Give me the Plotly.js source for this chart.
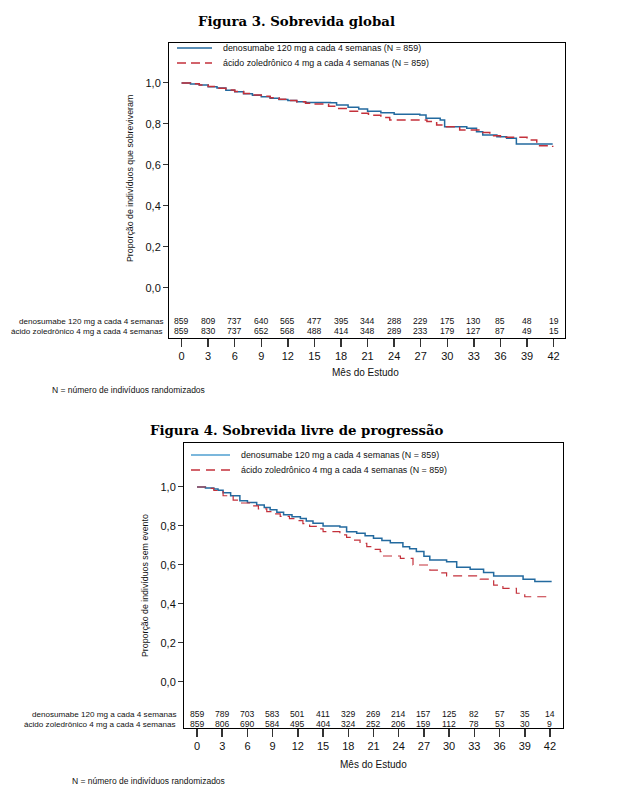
<!DOCTYPE html>
<html>
<head>
<meta charset="utf-8">
<script src="https://cdn.plot.ly/plotly-3.0.1.min.js"></script>
<style>html,body{margin:0;padding:0;background:#fff;}#chart{width:629px;height:802px;}</style>
</head>
<body>
<div id="chart"></div>
<script>
// ---------- DATA ----------
const seriesNames = ["denosumabe 120 mg a cada 4 semanas (N = 859)", "ácido zoledrônico 4 mg a cada 4 semanas (N = 859)"];
const riskLabels = ["denosumabe 120 mg a cada 4 semanas", "ácido zoledrônico 4 mg a cada 4 semanas"];
const monthTicks = [0, 3, 6, 9, 12, 15, 18, 21, 24, 27, 30, 33, 36, 39, 42];
const yTickVals = [0, 0.2, 0.4, 0.6, 0.8, 1.0];
const yTickText = ["0,0", "0,2", "0,4", "0,6", "0,8", "1,0"];

// Figura 3 - Sobrevida global
const osDenT = [0, 1, 2, 3, 4, 5, 6, 7, 8, 9, 10, 11, 12, 13, 14, 16.8, 17.5, 18.8, 20, 21, 22.5, 24, 26.9, 27.6, 29.2, 29.7, 32.2, 33.3, 34, 35.6, 36.7, 37.8, 41.9];
const osDenS = [1, .995, .99, .982, .975, .965, .957, .948, .94, .933, .926, .92, .914, .909, .905, .904, .893, .881, .873, .862, .855, .848, .844, .828, .82, .787, .779, .762, .746, .738, .73, .702, .702];
const osZolT = [0, 1, 2, 3, 4, 5, 6, 7, 8, 9, 10, 11, 12, 13, 14, 15, 16.6, 17.5, 18.8, 20, 21.1, 22.5, 23.5, 27.7, 28.8, 29.9, 31.4, 33.7, 34.8, 36, 39, 40.1, 41.9];
const osZolS = [1, .996, .99, .983, .974, .966, .958, .949, .941, .935, .928, .921, .914, .908, .901, .897, .887, .875, .862, .852, .842, .832, .82, .812, .795, .787, .771, .759, .743, .735, .722, .694, .688];
const osRiskDen = [859, 809, 737, 640, 565, 477, 395, 344, 288, 229, 175, 130, 85, 48, 19];
const osRiskZol = [859, 830, 737, 652, 568, 488, 414, 348, 289, 233, 179, 127, 87, 49, 15];

// Figura 4 - Sobrevida livre de progressão
const pfsDenT = [0, 1, 2, 2.5, 3.1, 4, 5.1, 6, 7.1, 8, 8.7, 9.5, 10.3, 11.3, 12.3, 13, 13.8, 15, 17, 17.8, 19, 20, 21, 22, 23, 24.5, 25.3, 26.1, 27, 27.7, 29.7, 30.9, 32.5, 34.1, 35.3, 38.8, 40.2, 42.2];
const pfsDenS = [1, .995, .99, .983, .97, .955, .93, .92, .908, .895, .883, .87, .858, .848, .839, .826, .814, .8, .795, .771, .763, .75, .737, .725, .714, .694, .683, .669, .645, .626, .617, .588, .578, .561, .544, .527, .515, .515];
const pfsZolT = [0, 1, 2, 3.1, 4.3, 5.3, 6.3, 7.3, 8.3, 9.1, 9.9, 11, 11.9, 12.6, 13.4, 14.2, 15, 17, 17.8, 18.6, 19.4, 20.2, 21, 21.8, 22.2, 24.2, 25.7, 27.7, 28.7, 29.7, 33.7, 35.3, 36.4, 38, 39, 42.2];
const pfsZolS = [1, .993, .982, .955, .933, .918, .903, .888, .874, .862, .849, .838, .828, .812, .798, .785, .771, .754, .742, .728, .711, .694, .68, .669, .646, .634, .6, .574, .56, .544, .527, .497, .48, .455, .437, .437];
const pfsRiskDen = [859, 789, 703, 583, 501, 411, 329, 269, 214, 157, 125, 82, 57, 35, 14];
const pfsRiskZol = [859, 806, 690, 584, 495, 404, 324, 252, 206, 159, 112, 78, 53, 30, 9];

// ---------- STYLE ----------
const W = 629, H = 802;
const SANS = "'Liberation Sans', Arial, sans-serif";
const SERIF = "'DejaVu Serif', 'Liberation Serif', serif";
const BLUE = "#236a9f", BLUE_LIGHT = "#4f9fd0", RED = "#c4313b";
const px = v => v / W;
const py = v => 1 - v / H;

function step(x, y, name, color, dash, xa, ya, width) {
  return {x: x, y: y, name: name, type: "scatter", mode: "lines",
    line: {shape: "hv", color: color, dash: dash, width: width},
    xaxis: xa, yaxis: ya, hoverinfo: "skip", showlegend: false};
}
const traces = [
  step(osDenT, osDenS, seriesNames[0], BLUE, "solid", "x", "y", 1.5),
  step(osZolT, osZolS, seriesNames[1], RED, "9px,5px", "x", "y", 1.5),
  step(pfsDenT, pfsDenS, seriesNames[0], BLUE, "solid", "x2", "y2", 1.5),
  step(pfsZolT, pfsZolS, seriesNames[1], RED, "9px,6px", "x2", "y2", 1.2)
];

function xax(domain, range, anchor) {
  return {domain: domain, range: range, anchor: anchor, tickvals: monthTicks, ticks: "outside", ticklen: 8, tickwidth: 1.5,
    tickcolor: "#333", showline: true, linecolor: "#000", linewidth: 1, mirror: true, showgrid: false,
    zeroline: false, tickfont: {family: SANS, size: 11, color: "#111"}, fixedrange: true};
}
function yax(domain, range, anchor) {
  return {domain: domain, range: range, tickvals: yTickVals, ticktext: yTickText, ticks: "outside", ticklen: 5,
    tickcolor: "#333", showline: true, linecolor: "#000", linewidth: 1, mirror: true, showgrid: false,
    zeroline: false, anchor: anchor, tickfont: {family: SANS, size: 11, color: "#111"}, fixedrange: true};
}

const ann = [];
const shapes = [];
function txt(text, x, y, size, opts) {
  ann.push(Object.assign({text: text, x: x, y: y, xref: "paper", yref: "paper", showarrow: false,
    font: {family: SANS, size: size, color: "#111"}, xanchor: "center", yanchor: "middle"}, opts || {}));
}
// titles
txt("Figura 3. Sobrevida global", px(296), py(22), 13.3, {font: {family: SERIF, size: 13.3, color: "#000", weight: "bold"}});
txt("Figura 4. Sobrevida livre de progressão", px(297), py(430), 13.3, {font: {family: SERIF, size: 13.3, color: "#000", weight: "bold"}});
// y titles
txt("Proporção de indivíduos que sobreviveram", px(130), py(179), 8.8, {textangle: -90});
txt("Proporção de indivíduos sem evento", px(145), py(586), 8.8, {textangle: -90});
// x titles
txt("Mês do Estudo", px(365), py(372), 10);
txt("Mês do Estudo", px(373), py(764), 10);
// footnotes
txt("N = número de indivíduos randomizados", px(50), py(390), 8.5, {xanchor: "left"});
txt("N = número de indivíduos randomizados", px(70), py(781), 8.5, {xanchor: "left"});

// legends (drawn as line samples + labels)
function legend(x0, x1, xt, y1, y2, blueCol, dash2) {
  shapes.push({type: "line", xref: "paper", yref: "paper", x0: px(x0), x1: px(x1), y0: py(y1), y1: py(y1),
    line: {color: blueCol, width: 1.5}});
  shapes.push({type: "line", xref: "paper", yref: "paper", x0: px(x0), x1: px(x1), y0: py(y2), y1: py(y2),
    line: {color: RED, width: 1.5, dash: dash2}});
  txt(seriesNames[0], px(xt), py(y1), 8.9, {xanchor: "left"});
  txt(seriesNames[1], px(xt), py(y2), 8.9, {xanchor: "left"});
}
legend(177, 212, 221, 48, 63, BLUE, "9px,5px");
legend(191, 230, 239, 455, 470, BLUE_LIGHT, "9px,6px");

// risk tables
function riskTable(xref, denVals, zolVals, y1, y2, labelRight) {
  txt(riskLabels[0], px(labelRight), py(y1), 8.1, {xanchor: "right"});
  txt(riskLabels[1], px(labelRight), py(y2), 8.1, {xanchor: "right"});
  monthTicks.forEach((m, i) => {
    ann.push({text: String(denVals[i]), x: m, y: py(y1), xref: xref, yref: "paper", showarrow: false,
      font: {family: SANS, size: 8.6, color: "#111"}, xanchor: "center", yanchor: "middle"});
    ann.push({text: String(zolVals[i]), x: m, y: py(y2), xref: xref, yref: "paper", showarrow: false,
      font: {family: SANS, size: 8.6, color: "#111"}, xanchor: "center", yanchor: "middle"});
  });
}
riskTable("x", osRiskDen, osRiskZol, 321, 331, 165);
riskTable("x2", pfsRiskDen, pfsRiskZol, 714, 724, 178);

const layout = {
  width: W, height: H, margin: {l: 0, r: 0, t: 0, b: 0}, paper_bgcolor: "#fff", plot_bgcolor: "#fff",
  showlegend: false,
  xaxis: xax([px(169), px(565)], [-1.42, 43.29], "y"),
  yaxis: yax([py(338), py(43)], [-0.244, 1.195], "x"),
  xaxis2: xax([px(184), px(563)], [-1.55, 43.55], "y2"),
  yaxis2: yax([py(728), py(443)], [-0.236, 1.2256], "x2"),
  annotations: ann,
  shapes: shapes
};

Plotly.newPlot("chart", traces, layout, {staticPlot: true, displayModeBar: false});
</script>
</body>
</html>
